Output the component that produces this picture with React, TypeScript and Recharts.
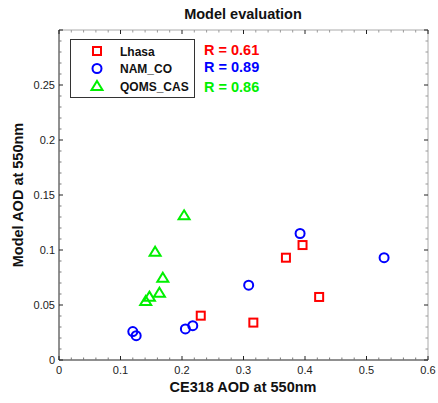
import { ScatterChart, Scatter, XAxis, YAxis } from "recharts";

const lhasaX = [0.2305, 0.316, 0.369, 0.396, 0.423];
const lhasaY = [0.0403, 0.034, 0.093, 0.1045, 0.0573];
const namcoX = [0.12, 0.1255, 0.2055, 0.2175, 0.3084, 0.392, 0.5286];
const namcoY = [0.0258, 0.0221, 0.0282, 0.0312, 0.068, 0.115, 0.093];
const qomsX = [0.2034, 0.1563, 0.1688, 0.1633, 0.147, 0.141];
const qomsY = [0.1315, 0.0985, 0.0748, 0.0612, 0.0576, 0.0536];

const xTicks = Array.from({ length: 31 }, (_, i) => +(i * 0.02).toFixed(2));
const yTicks = Array.from({ length: 31 }, (_, i) => +(i * 0.01).toFixed(2));
const xLabels: Record<string, string> = { "0": "0", "0.1": "0.1", "0.2": "0.2", "0.3": "0.3", "0.4": "0.4", "0.5": "0.5", "0.6": "0.6" };
const yLabels: Record<string, string> = { "0": "0", "0.05": "0.05", "0.1": "0.1", "0.15": "0.15", "0.2": "0.2", "0.25": "0.25" };

const seriesNames = ["Lhasa", "NAM_CO", "QOMS_CAS"];
const rValues = ["R = 0.61", "R = 0.89", "R = 0.86"];
const COLORS = ["#ff0000", "#0000ff", "#00f000"];

const toPoints = (xs: number[], ys: number[]) => xs.map((x, i) => ({ x, y: ys[i] }));

const FONT = "'Liberation Sans', Arial, sans-serif";

const Square = ({ cx, cy, fill }: any) => (
  <rect x={cx - 4} y={cy - 4} width={8} height={8} fill="none" stroke={fill} strokeWidth={2} />
);
const Circle = ({ cx, cy, fill }: any) => (
  <circle cx={cx} cy={cy} r={4.5} fill="none" stroke={fill} strokeWidth={2} />
);
const Triangle = ({ cx, cy, fill }: any) => (
  <path d={`M${cx},${cy - 5} L${cx + 5.5},${cy + 4} L${cx - 5.5},${cy + 4} Z`} fill="none" stroke={fill} strokeWidth={2} strokeLinejoin="miter" />
);

const isMajor = (v: number, step: number) => Math.abs(v / step - Math.round(v / step)) < 1e-6;

const BottomTick = ({ x, y, payload }: any) => {
  const v = payload.value as number;
  const major = isMajor(v, 0.1);
  const label = xLabels[String(v)];
  return (
    <g>
      <line x1={x} x2={x} y1={y} y2={y - (major ? 4 : 2.5)} stroke={major ? "#222" : "#777"} />
      {label !== undefined && (
        <text x={x} y={y + 14} textAnchor="middle" fontSize={11} fill="#222" fontFamily={FONT}>
          {label}
        </text>
      )}
    </g>
  );
};
const TopTick = ({ x, y, payload }: any) => {
  const major = isMajor(payload.value, 0.1);
  return <line x1={x} x2={x} y1={y} y2={y + (major ? 4 : 2.5)} stroke={major ? "#222" : "#999"} />;
};
const LeftTick = ({ x, y, payload }: any) => {
  const v = payload.value as number;
  const major = isMajor(v, 0.05);
  const label = yLabels[String(v)];
  return (
    <g>
      <line x1={x} x2={x + (major ? 4 : 2.5)} y1={y} y2={y} stroke={major ? "#222" : "#777"} />
      {label !== undefined && (
        <text x={x - 4} y={y + 4} textAnchor="end" fontSize={11} fill="#222" fontFamily={FONT}>
          {label}
        </text>
      )}
    </g>
  );
};
const RightTick = ({ x, y, payload }: any) => {
  const major = isMajor(payload.value, 0.05);
  return <line x1={x} x2={x - (major ? 4 : 2.5)} y1={y} y2={y} stroke={major ? "#222" : "#999"} />;
};

const markers = [Square, Circle, Triangle];

export default function App() {
  const data = [toPoints(lhasaX, lhasaY), toPoints(namcoX, namcoY), toPoints(qomsX, qomsY)];
  return (
    <div style={{ position: "absolute", left: 0, top: 0, width: 438, height: 403, background: "#fff", fontFamily: FONT }}>
      <ScatterChart width={438} height={403} margin={{ top: 29, right: 9, bottom: 23, left: 9 }}>
        <XAxis
          xAxisId="b"
          type="number"
          dataKey="x"
          domain={[0, 0.6]}
          ticks={xTicks}
          interval={0}
          tickSize={0}
          tickMargin={0}
          tickLine={false}
          axisLine={{ stroke: "#222" }}
          tick={<BottomTick />}
          height={20}
          allowDataOverflow
        />
        <XAxis
          xAxisId="t"
          orientation="top"
          type="number"
          dataKey="x"
          domain={[0, 0.6]}
          ticks={xTicks}
          interval={0}
          tickSize={0}
          tickMargin={0}
          tickLine={false}
          axisLine={{ stroke: "#aaa" }}
          tick={<TopTick />}
          height={1}
          allowDataOverflow
        />
        <YAxis
          yAxisId="l"
          type="number"
          dataKey="y"
          domain={[0, 0.3]}
          ticks={yTicks}
          interval={0}
          tickSize={0}
          tickMargin={0}
          tickLine={false}
          axisLine={{ stroke: "#222" }}
          tick={<LeftTick />}
          width={50}
          allowDataOverflow
        />
        <YAxis
          yAxisId="r"
          orientation="right"
          type="number"
          dataKey="y"
          domain={[0, 0.3]}
          ticks={yTicks}
          interval={0}
          tickSize={0}
          tickMargin={0}
          tickLine={false}
          axisLine={{ stroke: "#aaa" }}
          tick={<RightTick />}
          width={1}
          allowDataOverflow
        />
        {data.map((d, i) => (
          <Scatter
            key={seriesNames[i]}
            name={seriesNames[i]}
            data={d}
            xAxisId="b"
            yAxisId="l"
            fill={COLORS[i]}
            shape={markers[i]}
            isAnimationActive={false}
          />
        ))}
        <text x={243} y={19} textAnchor="middle" fontSize={14.5} fontWeight="bold" fill="#111" fontFamily={FONT}>
          Model evaluation
        </text>
        <text x={243} y={392} textAnchor="middle" fontSize={14.5} fontWeight="bold" fill="#111" fontFamily={FONT}>
          CE318 AOD at 550nm
        </text>
        <text
          x={23}
          y={195}
          textAnchor="middle"
          fontSize={14.5}
          fontWeight="bold"
          fill="#111"
          fontFamily={FONT}
          transform="rotate(-90 23 195)"
        >
          Model AOD at 550nm
        </text>
      </ScatterChart>
      {/* legend box */}
      <svg style={{ position: "absolute", left: 0, top: 0 }} width={438} height={403} pointerEvents="none">
        <rect x={70.5} y={39.5} width={124} height={58} fill="#fff" stroke="#333" strokeWidth={1} />
        {seriesNames.map((n, i) => {
          const cy = 51 + i * 17.5;
          const M = markers[i];
          return (
            <g key={n}>
              <M cx={97} cy={cy} fill={COLORS[i]} />
              <text x={120} y={cy + 4.5} fontSize={12} fontWeight="bold" fill="#111" fontFamily={FONT}>
                {n}
              </text>
            </g>
          );
        })}
        {rValues.map((r, i) => (
          <text key={r} x={204} y={[55, 72, 92][i]} fontSize={14.5} fontWeight="bold" fill={COLORS[i]} fontFamily={FONT}>
            {r}
          </text>
        ))}
      </svg>
    </div>
  );
}
